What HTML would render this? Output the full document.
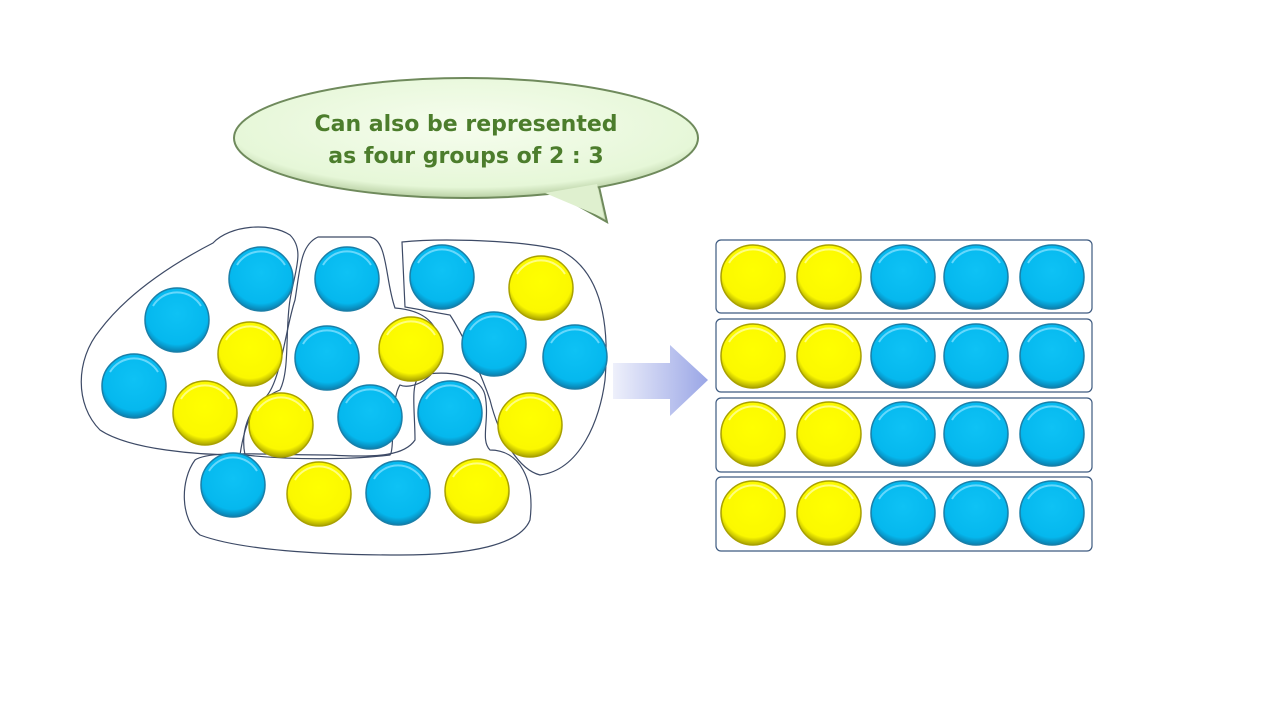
<!DOCTYPE html>
<html><head><meta charset="utf-8"><style>
body{margin:0;background:#fff}
svg{display:block}
</style></head><body>
<svg width="1265" height="712" viewBox="0 0 1265 712" xmlns="http://www.w3.org/2000/svg">
<defs>
<radialGradient id="b" cx="50%" cy="40%" r="60%"><stop offset="0" stop-color="#0ec2f5"/><stop offset="0.8" stop-color="#05b8ee"/><stop offset="1" stop-color="#0a7fae"/></radialGradient>
<radialGradient id="y" cx="50%" cy="40%" r="60%"><stop offset="0" stop-color="#ffff00"/><stop offset="0.8" stop-color="#fbf800"/><stop offset="1" stop-color="#a8a200"/></radialGradient>
<linearGradient id="ar" x1="0" x2="1"><stop offset="0" stop-color="#eef0fb"/><stop offset="1" stop-color="#9aa6e6"/></linearGradient>
<radialGradient id="cg" cx="50%" cy="40%" r="60%"><stop offset="0" stop-color="#f6fdee"/><stop offset="0.85" stop-color="#e6f7d8"/><stop offset="1" stop-color="#b9d0a4"/></radialGradient>
<g id="B"><circle r="32" fill="url(#b)" stroke="#1a7fa8" stroke-width="1.5"/><path d="M-24,-14 A28,28 0 0 1 24,-14" fill="none" stroke="#7fe0ff" stroke-width="2" opacity=".8"/></g>
<g id="Y"><circle r="32" fill="url(#y)" stroke="#a9a100" stroke-width="1.5"/><path d="M-24,-14 A28,28 0 0 1 24,-14" fill="none" stroke="#ffffa0" stroke-width="2" opacity=".8"/></g>
</defs>
<!-- callout -->
<path d="M550,190 L607,222 L598,182 Z" fill="#c9dcb5" stroke="#6f8a5c" stroke-width="2"/>
<ellipse cx="466" cy="138" rx="232" ry="60" fill="url(#cg)" stroke="#6f8a5c" stroke-width="2"/>
<path d="M545,193 L604,218 L597,184" fill="#dff0cf" stroke="none"/>
<text x="466" y="131" text-anchor="middle" font-family="'Comic Sans MS','DejaVu Sans',sans-serif" font-weight="bold" font-size="22" fill="#4c7d2c">Can also be represented</text>
<text x="466" y="163" text-anchor="middle" font-family="'Comic Sans MS','DejaVu Sans',sans-serif" font-weight="bold" font-size="22" fill="#4c7d2c">as four groups of 2 : 3</text>
<!-- lassos -->
<g fill="none" stroke="#3d4a66" stroke-width="1.2">
<path d="M213,243 C230,225 270,222 290,235 C305,250 295,270 290,300 C285,330 290,370 280,390 C255,400 245,420 240,455 C200,455 130,450 100,430 C75,405 75,360 100,330 C130,290 180,260 213,243 Z"/>
<path d="M318,237 L370,237 C388,240 385,280 395,308 C420,310 440,320 440,350 C440,380 410,390 400,385 C390,400 395,450 390,455 C350,460 290,460 245,455 C240,430 250,410 262,400 C280,390 285,330 295,300 C300,270 300,245 318,237 Z"/>
<path d="M402,242 C440,238 520,240 560,250 C600,270 610,320 605,380 C600,420 580,470 540,475 C520,470 500,440 490,400 C480,370 460,330 450,315 L405,307 Z"/>
<path d="M420,375 C450,370 480,375 485,395 C490,420 480,440 490,450 C520,450 535,480 530,520 C520,545 470,555 400,555 C320,555 240,550 200,535 C180,520 180,480 195,460 C210,450 260,455 330,455 C380,458 405,455 415,440 C415,410 410,385 420,375 Z"/>
</g>
<!-- left circles -->
<use href="#B" x="261" y="279"/><use href="#B" x="347" y="279"/><use href="#B" x="442" y="277"/><use href="#Y" x="541" y="288"/>
<use href="#B" x="177" y="320"/><use href="#Y" x="250" y="354"/><use href="#B" x="327" y="358"/><use href="#Y" x="411" y="349"/><use href="#B" x="494" y="344"/><use href="#B" x="575" y="357"/>
<use href="#B" x="134" y="386"/><use href="#Y" x="205" y="413"/><use href="#Y" x="281" y="425"/><use href="#B" x="370" y="417"/><use href="#B" x="450" y="413"/><use href="#Y" x="530" y="425"/>
<use href="#B" x="233" y="485"/><use href="#Y" x="319" y="494"/><use href="#B" x="398" y="493"/><use href="#Y" x="477" y="491"/>
<!-- arrow -->
<path d="M613,363 L670,363 L670,345 L708,380 L670,416 L670,399 L613,399 Z" fill="url(#ar)"/>
<!-- right boxes -->
<g fill="none" stroke="#3d5a80" stroke-width="1.2">
<rect x="716" y="240" width="376" height="73" rx="5"/>
<rect x="716" y="319" width="376" height="73" rx="5"/>
<rect x="716" y="398" width="376" height="74" rx="5"/>
<rect x="716" y="477" width="376" height="74" rx="5"/>
</g>
<g>
<use href="#Y" x="753" y="277"/><use href="#Y" x="829" y="277"/><use href="#B" x="903" y="277"/><use href="#B" x="976" y="277"/><use href="#B" x="1052" y="277"/>
<use href="#Y" x="753" y="356"/><use href="#Y" x="829" y="356"/><use href="#B" x="903" y="356"/><use href="#B" x="976" y="356"/><use href="#B" x="1052" y="356"/>
<use href="#Y" x="753" y="434"/><use href="#Y" x="829" y="434"/><use href="#B" x="903" y="434"/><use href="#B" x="976" y="434"/><use href="#B" x="1052" y="434"/>
<use href="#Y" x="753" y="513"/><use href="#Y" x="829" y="513"/><use href="#B" x="903" y="513"/><use href="#B" x="976" y="513"/><use href="#B" x="1052" y="513"/>
</g>
</svg>
</body></html>
